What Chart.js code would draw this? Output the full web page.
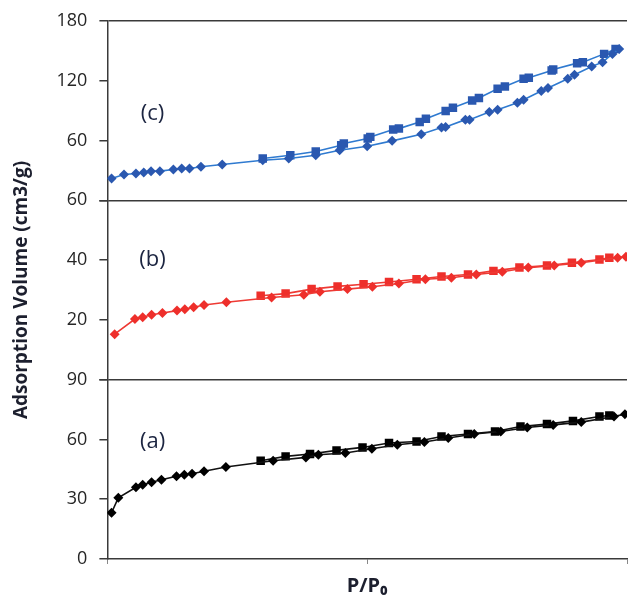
<!DOCTYPE html>
<html>
<head>
<meta charset="utf-8">
<script src="https://cdn.jsdelivr.net/npm/chart.js@4.4.1/dist/chart.umd.min.js"></script>
<style>
  html, body { margin: 0; padding: 0; background: #fff; }
  #wrap { width: 633px; height: 598px; }
</style>
</head>
<body>
<div id="wrap"><canvas id="isoChart"></canvas></div>
<script>
// Isotherms: P/P0 and adsorbed volume (cm3/g)
// (a) black
const adsX_a = [0.008, 0.021, 0.055, 0.068, 0.085, 0.104, 0.133, 0.148, 0.163, 0.186, 0.228, 0.319, 0.382, 0.406, 0.458, 0.509, 0.558, 0.610, 0.656, 0.706, 0.757, 0.808, 0.858, 0.912, 0.975, 0.996];
const adsY_a = [23.2, 30.7, 36.0, 37.3, 38.5, 39.8, 41.5, 42.3, 42.8, 44.0, 46.2, 49.3, 51.0, 52.3, 53.2, 55.3, 57.3, 58.7, 60.7, 62.7, 64.0, 66.0, 67.3, 68.7, 71.5, 72.7];
const desX_a = [0.966, 0.947, 0.896, 0.846, 0.795, 0.746, 0.694, 0.643, 0.595, 0.542, 0.491, 0.441, 0.390, 0.343, 0.295];
const desY_a = [72.0, 71.5, 69.3, 67.7, 66.5, 64.0, 62.7, 61.5, 59.0, 58.2, 56.0, 54.5, 52.7, 51.5, 49.3];

// (b) red
const adsX_b = [0.014, 0.053, 0.068, 0.085, 0.106, 0.134, 0.149, 0.166, 0.186, 0.229, 0.316, 0.378, 0.409, 0.462, 0.510, 0.561, 0.612, 0.662, 0.710, 0.760, 0.810, 0.860, 0.912, 0.982, 0.998];
const adsY_b = [15.2, 20.3, 20.9, 21.7, 22.3, 23.1, 23.6, 24.2, 25.0, 25.9, 27.5, 28.4, 29.4, 30.3, 31.1, 32.2, 33.6, 34.1, 35.2, 36.1, 37.5, 38.2, 39.1, 40.8, 41.1];
const desX_b = [0.966, 0.947, 0.894, 0.846, 0.793, 0.743, 0.694, 0.643, 0.595, 0.542, 0.493, 0.443, 0.393, 0.343, 0.295];
const desY_b = [40.8, 40.2, 39.1, 38.2, 37.5, 36.4, 35.2, 34.5, 33.6, 32.7, 31.9, 31.2, 30.3, 28.8, 28.1];

// (c) blue
const adsX_c = [0.008, 0.032, 0.055, 0.070, 0.084, 0.101, 0.127, 0.143, 0.158, 0.180, 0.221, 0.299, 0.349, 0.401, 0.447, 0.500, 0.548, 0.604, 0.643, 0.651, 0.689, 0.697, 0.735, 0.751, 0.789, 0.801, 0.835, 0.848, 0.886, 0.899, 0.932, 0.953, 0.972, 0.985];
const adsY_c = [22, 26, 27, 28, 29.3, 29.3, 31, 32, 32, 33.7, 36, 40.3, 42, 45.3, 50.3, 54.3, 59.7, 66.3, 73, 73.7, 81, 81, 88.7, 91, 98, 101, 109.7, 112.7, 122, 126, 134.3, 138.7, 147, 152];
const desX_c = [0.978, 0.956, 0.915, 0.904, 0.858, 0.855, 0.811, 0.801, 0.765, 0.751, 0.715, 0.702, 0.665, 0.651, 0.613, 0.601, 0.561, 0.550, 0.506, 0.501, 0.455, 0.450, 0.401, 0.352, 0.299];
const desY_c = [152, 147, 138.7, 137.7, 131.3, 130.3, 123, 122, 114.3, 112, 102.7, 100.3, 93, 89.7, 82, 78.7, 72, 71, 63.7, 62, 57, 55.3, 49, 45.3, 42];

// axis ranges and tick steps per panel (bottom to top)
const panelIds = ['ya', 'yb', 'yc'];
const panelNames = ['(a)', '(b)', '(c)'];
const panelMax = [90, 60, 180];
const panelStep = [30, 20, 60];
const labelAtX = 0.087;
const labelAtY = [59, 40, 87];

const axisColor = '#3a3a3a';
const tickFont = { family: '"Open Sans", sans-serif', size: 18, lineHeight: 1.0 };

function pts(xs, ys) {
    return xs.map((x, i) => ({ x: x, y: ys[i] }));
}

function series(label, xs, ys, axis, line, fill, shape) {
    return {
        label: label,
        data: pts(xs, ys),
        yAxisID: axis,
        borderColor: line,
        borderWidth: 1.6,
        backgroundColor: fill,
        pointBackgroundColor: fill,
        pointBorderColor: fill,
        pointBorderWidth: 0,
        pointStyle: shape,
        pointRadius: shape === 'rect' ? 6 : 5,
        tension: 0,
        fill: false
    };
}

function yScale(i) {
    const max = panelMax[i];
    return {
        type: 'linear',
        position: 'left',
        stack: 'iso',
        stackWeight: 1,
        min: 0,
        max: max,
        border: { display: true, color: axisColor, width: 1.5 },
        grid: {
            drawOnChartArea: true,
            color: ctx => (ctx.tick && ctx.tick.value === max) ? axisColor : 'rgba(0,0,0,0)',
            lineWidth: 1.5,
            tickColor: axisColor,
            tickLength: 8
        },
        ticks: {
            stepSize: panelStep[i],
            padding: 12,
            color: '#262626',
            font: tickFont,
            // the bottom value of the upper panels is not written
            callback: v => (i > 0 && v === 0) ? '' : v
        },
        title: {
            display: i === 1,
            text: 'Adsorption Volume (cm3/g)',
            color: '#1c1f2e',
            font: { family: '"Open Sans", sans-serif', size: 19, weight: 'bold' },
            padding: { top: 0, bottom: 22 }
        }
    };
}

// panel letters inside each plot
const panelLabels = {
    id: 'panelLabels',
    afterDatasetsDraw(chart) {
        const ctx = chart.ctx;
        const x = chart.scales.x.getPixelForValue(labelAtX);
        ctx.save();
        ctx.font = '22px "Open Sans", sans-serif';
        ctx.fillStyle = '#1c2541';
        ctx.textAlign = 'center';
        ctx.textBaseline = 'middle';
        panelIds.forEach((id, i) => {
            ctx.fillText(panelNames[i], x, chart.scales[id].getPixelForValue(labelAtY[i]));
        });
        ctx.restore();
    }
};

const scales = {
    x: {
        type: 'linear',
        min: 0,
        max: 1,
        border: { display: true, color: axisColor, width: 1.5 },
        grid: { drawOnChartArea: false, tickColor: '#888', tickLength: 5 },
        ticks: { display: false, stepSize: 0.5 },
        title: {
            display: true,
            text: 'P/P\u2080',
            color: '#1c1f2e',
            font: { family: '"Open Sans", sans-serif', size: 20, weight: 'bold' },
            padding: { top: 10, bottom: 0 }
        }
    }
};
panelIds.forEach((id, i) => { scales[id] = yScale(i); });

const ctxIso = document.getElementById('isoChart').getContext('2d');
const isoChart = new Chart(ctxIso, {
    type: 'line',
    data: {
        datasets: [
            series('(a) adsorption', adsX_a, adsY_a, 'ya', '#111111', '#000000', 'rectRot'),
            series('(a) desorption', desX_a, desY_a, 'ya', '#111111', '#000000', 'rect'),
            series('(b) adsorption', adsX_b, adsY_b, 'yb', '#ee3a34', '#ee2f2b', 'rectRot'),
            series('(b) desorption', desX_b, desY_b, 'yb', '#ee3a34', '#ee2f2b', 'rect'),
            series('(c) adsorption', adsX_c, adsY_c, 'yc', '#2f7ad0', '#2a58b0', 'rectRot'),
            series('(c) desorption', desX_c, desY_c, 'yc', '#2f7ad0', '#2a58b0', 'rect')
        ]
    },
    options: {
        responsive: true,
        maintainAspectRatio: false,
        animation: false,
        layout: { padding: { left: 10, right: 0, top: 5, bottom: 0 } },
        plugins: {
            legend: { display: false },
            tooltip: { enabled: false }
        },
        scales: scales
    },
    plugins: [panelLabels]
});
</script>
</body>
</html>
